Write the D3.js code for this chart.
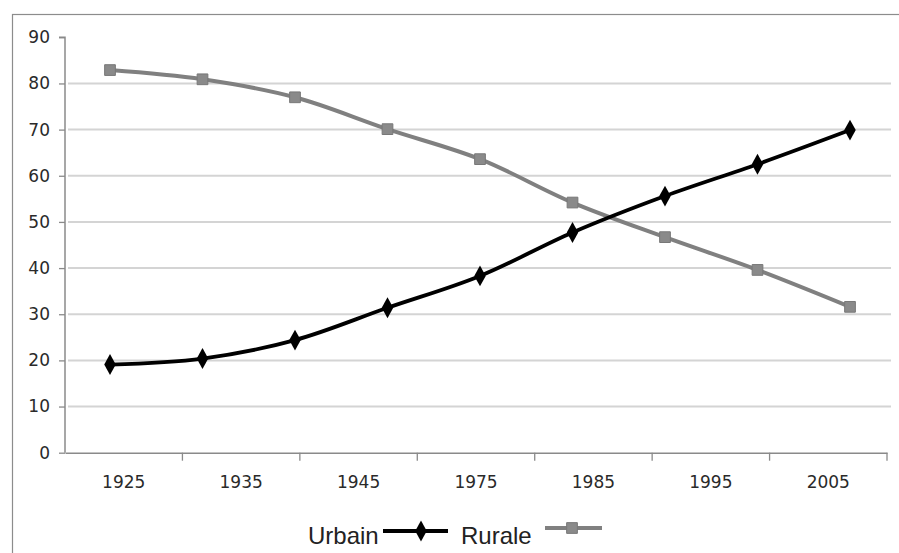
<!DOCTYPE html>
<html>
<head>
<meta charset="utf-8">
<script src="https://cdn.jsdelivr.net/npm/d3@7"></script>
<style>
  body { margin: 0; background: #fff; }
</style>
</head>
<body>
<div id="chart"></div>
<script>
// Category labels on the x axis
const categories = ["1925", "1935", "1945", "1975", "1985", "1995", "2005"];

// Series values, one entry per plotted point
const urbain = [19.1, 20.4, 24.4, 31.4, 38.3, 47.7, 55.6, 62.5, 69.9];
const rurale = [82.9, 80.9, 77.0, 70.1, 63.6, 54.2, 46.7, 39.6, 31.6];

const yTicks = [0, 10, 20, 30, 40, 50, 60, 70, 80, 90];

const width = 899;
const height = 553;

const svg = d3.select("#chart")
  .append("svg")
  .attr("width", width)
  .attr("height", height);

// Outer frame of the chart area
svg.append("rect")
  .attr("x", 12.5)
  .attr("y", 14.5)
  .attr("width", 900)
  .attr("height", 600)
  .attr("fill", "#fff")
  .attr("stroke", "#8c8c8c")
  .attr("stroke-width", 1.2);

// Scales
const x = d3.scaleBand()
  .domain(categories)
  .range([65, 887]);

const xp = d3.scalePoint()
  .domain(d3.range(urbain.length))
  .range([110, 850]);

const y = d3.scaleLinear()
  .domain([0, 90])
  .range([452.7, 37.3]);

// Gridlines
svg.append("g")
  .selectAll("line")
  .data(yTicks.filter(d => d > 0 && d < 90))
  .join("line")
    .attr("x1", 68)
    .attr("x2", 891)
    .attr("y1", d => y(d))
    .attr("y2", d => y(d))
    .attr("stroke", "#d4d4d4")
    .attr("stroke-width", 2);

// Y axis
const yAxis = svg.append("g")
  .attr("transform", "translate(65,0)")
  .call(d3.axisLeft(y).tickValues(yTicks).tickSize(6).tickPadding(9));

// X axis, ticks drawn between the categories
const xAxis = svg.append("g")
  .attr("transform", `translate(0,${y(0)})`)
  .call(d3.axisBottom(x).tickSize(0).tickPadding(23));

svg.append("g")
  .selectAll("line")
  .data(categories.slice(1).map(c => x(c)).concat([x.range()[1]]))
  .join("line")
    .attr("x1", d => d)
    .attr("x2", d => d)
    .attr("y1", y(0))
    .attr("y2", y(0) + 8)
    .attr("stroke", "#8a8a8a")
    .attr("stroke-width", 1.3);

[yAxis, xAxis].forEach(g => {
  g.attr("font-size", 17).attr("font-family", "DejaVu Sans, sans-serif");
  g.select(".domain").attr("stroke", "#8a8a8a").attr("stroke-width", 1.5);
  g.selectAll(".tick line").attr("stroke", "#8a8a8a").attr("stroke-width", 1.3);
  g.selectAll("text").attr("fill", "#2a2a2a");
});
yAxis.select(".domain").attr("d", `M-6,${y(90)}H0V${y(0)}`);

// Lines
const line = d3.line()
  .x((d, i) => xp(i))
  .y(d => y(d))
  .curve(d3.curveCatmullRom.alpha(0.5));

const diamond = d3.symbol().type(d3.symbolDiamond).size(95);
const square = d3.symbol().type(d3.symbolSquare).size(115);

svg.append("path")
  .datum(rurale)
  .attr("d", line)
  .attr("fill", "none")
  .attr("stroke", "#808080")
  .attr("stroke-width", 4);

svg.append("g")
  .selectAll("path")
  .data(rurale)
  .join("path")
    .attr("d", square)
    .attr("transform", (d, i) => `translate(${xp(i)},${y(d)})`)
    .attr("fill", "#8a8a8a")
    .attr("stroke", "#787878")
    .attr("stroke-width", 1);

svg.append("path")
  .datum(urbain)
  .attr("d", line)
  .attr("fill", "none")
  .attr("stroke", "#000")
  .attr("stroke-width", 3.8);

svg.append("g")
  .selectAll("path")
  .data(urbain)
  .join("path")
    .attr("d", diamond)
    .attr("transform", (d, i) => `translate(${xp(i)},${y(d)}) scale(1.1,1.15)`)
    .attr("fill", "#000");

// Legend
const legend = svg.append("g")
  .attr("font-size", 24)
  .attr("font-family", "Liberation Sans, Arial, sans-serif")
  .attr("fill", "#222");

legend.append("text").attr("x", 308).attr("y", 544).text("Urbain");
legend.append("line")
  .attr("x1", 383).attr("x2", 448).attr("y1", 531).attr("y2", 531)
  .attr("stroke", "#000").attr("stroke-width", 3.8);
legend.append("path")
  .attr("d", diamond)
  .attr("transform", "translate(421,531) scale(1.1,1.15)")
  .attr("fill", "#000");

legend.append("text").attr("x", 461).attr("y", 544).text("Rurale");
legend.append("line")
  .attr("x1", 545).attr("x2", 602).attr("y1", 528).attr("y2", 528)
  .attr("stroke", "#808080").attr("stroke-width", 4);
legend.append("path")
  .attr("d", square)
  .attr("transform", "translate(572,528)")
  .attr("fill", "#8a8a8a")
  .attr("stroke", "#787878");
</script>
</body>
</html>
